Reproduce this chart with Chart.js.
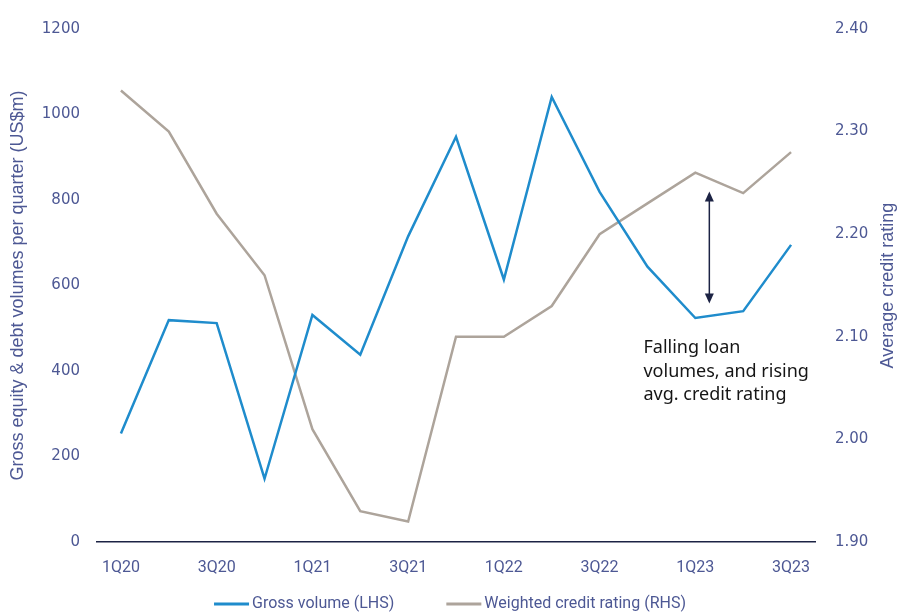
<!DOCTYPE html>
<html>
<head>
<meta charset="utf-8">
<script src="https://cdn.jsdelivr.net/npm/chart.js@4"></script>
<style>
  html, body { margin: 0; padding: 0; background: #fff; }
  #wrap { width: 900px; height: 614px; }
</style>
</head>
<body>
<div id="wrap"><canvas id="chart"></canvas></div>
<script>
const quarters = ['1Q20','2Q20','3Q20','4Q20','1Q21','2Q21','3Q21','4Q21','1Q22','2Q22','3Q22','4Q22','1Q23','2Q23','3Q23'];
const grossVolume = [254, 519, 512, 148, 531, 438, 715, 948, 614, 1041, 819, 644, 524, 540, 695];
const creditRating = [2.34, 2.30, 2.22, 2.16, 2.01, 1.93, 1.92, 2.10, 2.10, 2.13, 2.20, 2.23, 2.26, 2.24, 2.28];
const leftTitle = 'Gross equity & debt volumes per quarter (US$m)';
const rightTitle = 'Average credit rating';
const noteLines = ['Falling loan', 'volumes, and rising', 'avg. credit rating'];

const axisBlue = '#4d5894';
const navy = '#1c2344';
const titleFont = '18px "Liberation Sans", Arial, sans-serif';
const tickFont = { family: '"DejaVu Sans", sans-serif', size: 15 };
const narrowFont = { family: 'Roboto, sans-serif', size: 16 };

// axis titles (both read upwards), bottom legend, arrow + note
var decorPlugin = {
	id: 'decor',
	afterDraw(chart) {
		const ctx = chart.ctx;
		const area = chart.chartArea;
		const midY = (area.top + area.bottom) / 2;
		ctx.save();
		ctx.fillStyle = axisBlue;
		ctx.font = titleFont;
		ctx.textAlign = 'center';
		ctx.textBaseline = 'middle';
		[[18, leftTitle], [888, rightTitle]].forEach(([x, t]) => {
			ctx.save();
			ctx.translate(x, midY);
			ctx.rotate(-Math.PI / 2);
			ctx.fillText(t, 0, 0);
			ctx.restore();
		});

		// legend
		ctx.font = narrowFont.size + 'px ' + narrowFont.family;
		ctx.textAlign = 'left';
		const sw = 35, gap = 3, between = 52;
		const items = chart.data.datasets.map(d => ({ label: d.label, color: d.borderColor, w: ctx.measureText(d.label).width }));
		const total = items.reduce((s, it) => s + sw + gap + it.w, 0) + between * (items.length - 1);
		let lx = 450 - total / 2;
		const ly = 604;
		items.forEach(it => {
			ctx.fillStyle = it.color;
			ctx.fillRect(lx, ly - 1.5, sw, 3);
			ctx.fillStyle = axisBlue;
			ctx.fillText(it.label, lx + sw + gap, ly);
			lx += sw + gap + it.w + between;
		});

		// arrow between the two lines
		const x = chart.scales.x.getPixelForValue(12) + 14;
		const yTop = chart.scales.y.getPixelForValue(820);
		const yBot = chart.scales.y.getPixelForValue(558);
		ctx.strokeStyle = navy;
		ctx.fillStyle = navy;
		ctx.lineWidth = 1.5;
		ctx.beginPath();
		ctx.moveTo(x, yTop + 6);
		ctx.lineTo(x, yBot - 6);
		ctx.stroke();
		ctx.beginPath();
		ctx.moveTo(x, yTop); ctx.lineTo(x - 4.5, yTop + 10); ctx.lineTo(x + 4.5, yTop + 10); ctx.closePath(); ctx.fill();
		ctx.beginPath();
		ctx.moveTo(x, yBot); ctx.lineTo(x - 4.5, yBot - 10); ctx.lineTo(x + 4.5, yBot - 10); ctx.closePath(); ctx.fill();

		ctx.fillStyle = '#151515';
		ctx.font = '18px "Noto Sans", "Open Sans", sans-serif';
		const tx = chart.scales.x.getPixelForValue(11) - 4;
		noteLines.forEach((t, i) => ctx.fillText(t, tx, 348 + i * 23.5));
		ctx.restore();
	}
};

new Chart(document.getElementById('chart'), {
	type: 'line',
	data: {
		labels: quarters,
		datasets: [{
			label: 'Gross volume (LHS)',
			data: grossVolume,
			yAxisID: 'y',
			borderColor: '#1f8ccc',
			backgroundColor: '#1f8ccc',
			borderWidth: 2.5,
			pointRadius: 0,
			tension: 0
		}, {
			label: 'Weighted credit rating (RHS)',
			data: creditRating,
			yAxisID: 'y1',
			borderColor: '#ada49b',
			backgroundColor: '#ada49b',
			borderWidth: 2.5,
			pointRadius: 0,
			tension: 0
		}]
	},
	options: {
		responsive: true,
		maintainAspectRatio: false,
		animation: false,
		layout: { padding: { top: 22, left: 0, right: 0, bottom: 0 } },
		plugins: {
			legend: { display: false },
			tooltip: { enabled: false }
		},
		scales: {
			x: {
				offset: true,
				grid: { display: false, drawTicks: false },
				border: { display: true, color: navy, width: 1.5 },
				afterFit: function(scale) { scale.height = 72; },
				ticks: {
					color: axisBlue,
					font: narrowFont,
					padding: 16,
					maxRotation: 0,
					autoSkip: false,
					callback: function(v, i) { return i % 2 === 0 ? quarters[i] : ''; }
				}
			},
			y: {
				position: 'left',
				min: 0, max: 1200,
				grid: { display: false, drawTicks: false },
				border: { display: false },
				afterFit: function(scale) { scale.width = 97; },
				ticks: {
					stepSize: 200,
					color: axisBlue,
					font: tickFont,
					padding: 17,
					callback: function(v) { return String(v); }
				}
			},
			y1: {
				position: 'right',
				min: 1.9, max: 2.4,
				grid: { display: false, drawTicks: false },
				border: { display: false },
				afterFit: function(scale) { scale.width = 85; },
				ticks: {
					stepSize: 0.1,
					color: axisBlue,
					font: tickFont,
					padding: 20,
					callback: function(v) { return v.toFixed(2); }
				}
			}
		}
	},
	plugins: [decorPlugin]
});
</script>
</body>
</html>
